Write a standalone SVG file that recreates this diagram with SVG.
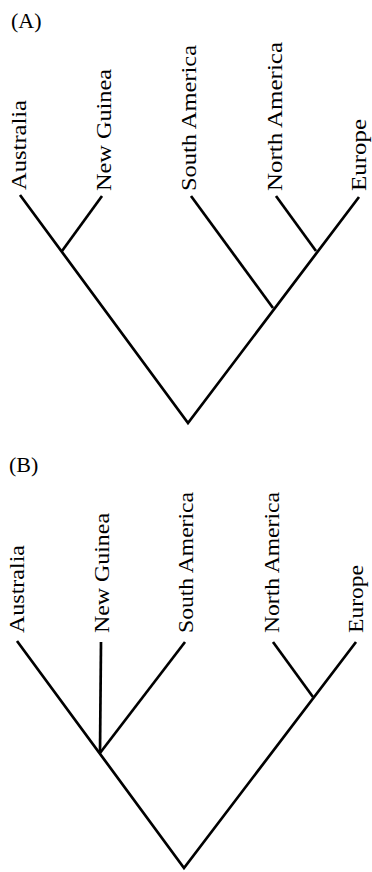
<svg xmlns="http://www.w3.org/2000/svg" width="372" height="872" viewBox="0 0 372 872">
<style>
.lbl{font-family:"Liberation Serif","Times New Roman",serif;font-size:22px;fill:#000}
.panel{font-family:"Liberation Serif","Times New Roman",serif;font-size:22px;fill:#000}
.br{stroke:#000;stroke-width:2.7;fill:none;stroke-linecap:butt;stroke-linejoin:miter}
</style>
<rect width="372" height="872" fill="#fff"/>
<g id="panelA">
<text class="panel" x="11" y="28">(A)</text>
<g id="A-australia"><text class="lbl" transform="translate(26,190) rotate(-90)" textLength="90" lengthAdjust="spacingAndGlyphs">Australia</text></g>
<g id="A-newguinea"><text class="lbl" transform="translate(111,191) rotate(-90)" textLength="122" lengthAdjust="spacingAndGlyphs">New Guinea</text></g>
<g id="A-southamerica"><text class="lbl" transform="translate(196,191) rotate(-90)" textLength="146" lengthAdjust="spacingAndGlyphs">South America</text></g>
<g id="A-northamerica"><text class="lbl" transform="translate(282,191) rotate(-90)" textLength="149" lengthAdjust="spacingAndGlyphs">North America</text></g>
<g id="A-europe"><text class="lbl" transform="translate(366,191) rotate(-90)" textLength="72" lengthAdjust="spacingAndGlyphs">Europe</text></g>
<g id="A-connectors">
<path class="br" d="M20,195 L188,423 L359,197"/>
<path class="br" d="M62,251 L102,196"/>
<path class="br" d="M273,308 L191,196"/>
<path class="br" d="M316,251 L276,196"/>
</g>
</g>
<g id="panelB">
<text class="panel" x="9" y="472">(B)</text>
<g id="B-australia"><text class="lbl" transform="translate(24,633) rotate(-90)" textLength="88" lengthAdjust="spacingAndGlyphs">Australia</text></g>
<g id="B-newguinea"><text class="lbl" transform="translate(109,633) rotate(-90)" textLength="120" lengthAdjust="spacingAndGlyphs">New Guinea</text></g>
<g id="B-southamerica"><text class="lbl" transform="translate(193,633) rotate(-90)" textLength="141" lengthAdjust="spacingAndGlyphs">South America</text></g>
<g id="B-northamerica"><text class="lbl" transform="translate(279,633) rotate(-90)" textLength="141" lengthAdjust="spacingAndGlyphs">North America</text></g>
<g id="B-europe"><text class="lbl" transform="translate(363,633) rotate(-90)" textLength="68" lengthAdjust="spacingAndGlyphs">Europe</text></g>
<g id="B-connectors">
<path class="br" d="M17,641 L184,868 L356,642"/>
<path class="br" d="M101,642 L100,753"/>
<path class="br" d="M100,753 L185,642"/>
<path class="br" d="M313,697 L273,642"/>
</g>
</g>
</svg>
